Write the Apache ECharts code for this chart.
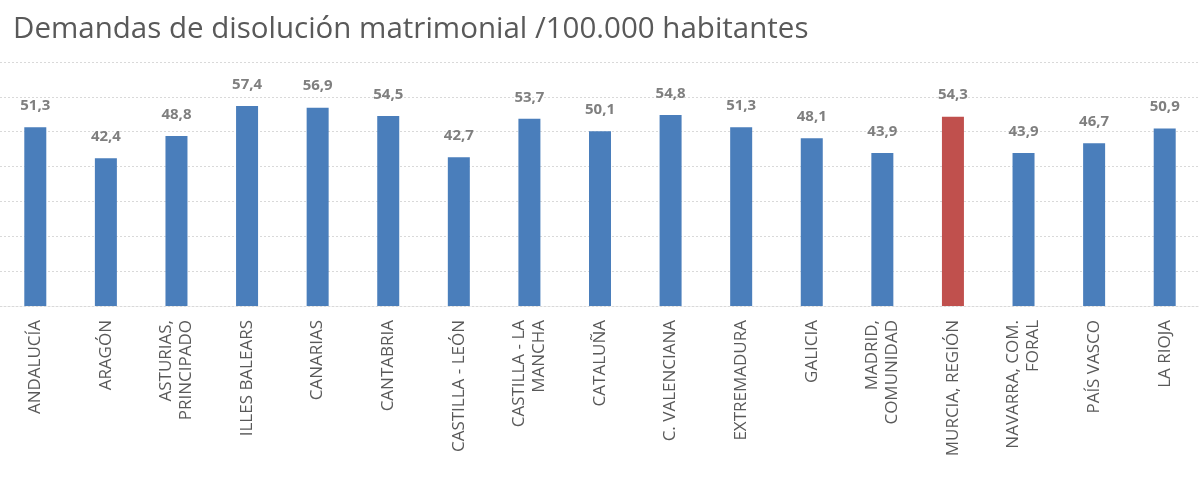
<!DOCTYPE html>
<html><head><meta charset="utf-8">
<script src="https://cdn.jsdelivr.net/npm/echarts@6/dist/echarts.min.js"></script>
<style>html,body{margin:0;padding:0;background:#fff}#c{width:1200px;height:504px}</style>
</head><body><div id="c"></div>
<script>
const titleText = "Demandas de disolución matrimonial /100.000 habitantes";
const categories = ["ANDALUCÍA","ARAGÓN","ASTURIAS,\nPRINCIPADO","ILLES BALEARS","CANARIAS","CANTABRIA","CASTILLA - LEÓN","CASTILLA - LA\nMANCHA","CATALUÑA","C. VALENCIANA","EXTREMADURA","GALICIA","MADRID,\nCOMUNIDAD","MURCIA, REGIÓN","NAVARRA, COM.\nFORAL","PAÍS VASCO","LA RIOJA"];
const values = [51.3,42.4,48.8,57.4,56.9,54.5,42.7,53.7,50.1,54.8,51.3,48.1,43.9,54.3,43.9,46.7,50.9];
const highlight = "MURCIA, REGIÓN";

const chart = echarts.init(document.getElementById('c'));
chart.setOption({
  animation:false,
  title:{text:titleText,left:8,top:10,textStyle:{fontFamily:"Open Sans",fontSize:29.5,fontWeight:'normal',color:'#595959'}},
  grid:{left:0,right:0,top:62,bottom:198,containLabel:false},
  xAxis:{type:'category',data:categories,
    axisLine:{lineStyle:{color:'#d9d9d9',type:[2,2]}},axisTick:{show:false},
    axisLabel:{rotate:90,interval:0,margin:14,fontFamily:"Open Sans",fontSize:17,color:'#595959',lineHeight:20}},
  yAxis:{type:'value',min:0,max:70,interval:10,axisLabel:{show:false},axisLine:{show:false},axisTick:{show:false},
    splitLine:{lineStyle:{color:'#d9d9d9',type:[2,2]}}},
  series:[{type:'bar',barWidth:22,
    data:values.map((v,i)=>({value:v,itemStyle:{color:categories[i]===highlight?'#c0504d':'#4a7ebb'}})),
    label:{show:true,position:'top',distance:14,formatter:p=>String(p.value).replace('.',','),
      fontFamily:"Open Sans",fontSize:15,fontWeight:'bold',color:'#7f7f7f'}}]
});
</script></body></html>
